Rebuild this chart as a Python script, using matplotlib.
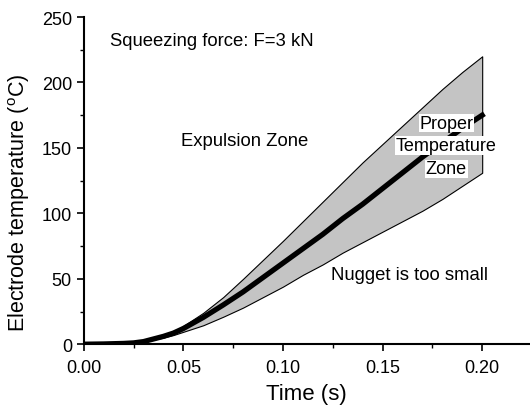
import matplotlib.pyplot as plt
from matplotlib.ticker import MultipleLocator

plt.rcParams['font.family'] = ['Liberation Sans', 'DejaVu Sans']
plt.rcParams['mathtext.fontset'] = 'custom'
plt.rcParams['mathtext.rm'] = 'Liberation Sans'

# время, с
t = [0, 0.01, 0.02, 0.025, 0.03, 0.035, 0.04, 0.045, 0.05, 0.06, 0.07, 0.08,
     0.09, 0.1, 0.11, 0.12, 0.13, 0.14, 0.15, 0.16, 0.17, 0.18, 0.19, 0.2]
# верхняя граница (выплеск)
upper = [0, 0.2, 0.7, 1.2, 2.5, 4.5, 7, 10, 14, 24, 36, 50,
         64.5, 79, 94, 109, 124, 139, 153, 167, 181, 195, 208, 220]
# средняя линия
middle = [0, 0.2, 0.6, 1, 2, 4, 6, 8.5, 12, 20.5, 30, 40,
          51, 62, 73, 84, 96, 107, 119, 131, 143, 154, 165, 175]
# нижняя граница (ядро слишком мало)
lower = [0, 0.2, 0.5, 0.9, 1.8, 3.5, 5, 7, 9.5, 14.5, 21, 28,
         36, 44, 53, 61, 70, 78, 86, 94, 102, 111, 121, 131]

fig = plt.figure(figsize=(5.3, 4.1), dpi=100)
ax = fig.add_axes([0.158, 0.158, 0.842, 0.798])

ax.fill_between(t, lower, upper, facecolor='#c4c4c4', edgecolor='black',
                linewidth=0.8, zorder=1)
ax.plot(t, middle, color='black', linewidth=3.8, zorder=2)

ax.set_xlim(0, 0.224)
ax.set_ylim(0, 250)
ax.xaxis.set_major_locator(MultipleLocator(0.05))
ax.xaxis.set_minor_locator(MultipleLocator(0.025))
ax.yaxis.set_major_locator(MultipleLocator(50))
ax.yaxis.set_minor_locator(MultipleLocator(25))
ax.xaxis.set_major_formatter(plt.FormatStrFormatter('%.2f'))
ax.spines['top'].set_visible(False)
ax.spines['right'].set_visible(False)
ax.spines['left'].set_linewidth(1.5)
ax.spines['bottom'].set_linewidth(1.5)
ax.tick_params(which='major', direction='out', length=5, width=1.2, labelsize=13)
ax.tick_params(axis='x', which='major', pad=6)
ax.tick_params(which='minor', direction='out', length=3, width=1)

ax.set_xlabel('Time (s)', fontsize=16, labelpad=5)
ax.set_ylabel(r'Electrode temperature ($^\mathrm{o}$C)', fontsize=15.5)
ax.yaxis.set_label_coords(-0.117, 0.434)

ax.text(0.013, 232, 'Squeezing force: F=3 kN', fontsize=13.3, va='center')
ax.text(0.049, 156, 'Expulsion Zone', fontsize=13.3, va='center')
ax.text(0.124, 53, 'Nugget is too small', fontsize=13.3, va='center')

box = dict(facecolor='white', edgecolor='none', pad=0.5)
ax.text(0.182, 169, 'Proper', fontsize=13, ha='center', va='center', bbox=box, zorder=3)
ax.text(0.182, 152, 'Temperature', fontsize=13, ha='center', va='center', bbox=box, zorder=3)
ax.text(0.182, 134, 'Zone', fontsize=13, ha='center', va='center', bbox=box, zorder=3)

fig.savefig('out.png', dpi=100)
